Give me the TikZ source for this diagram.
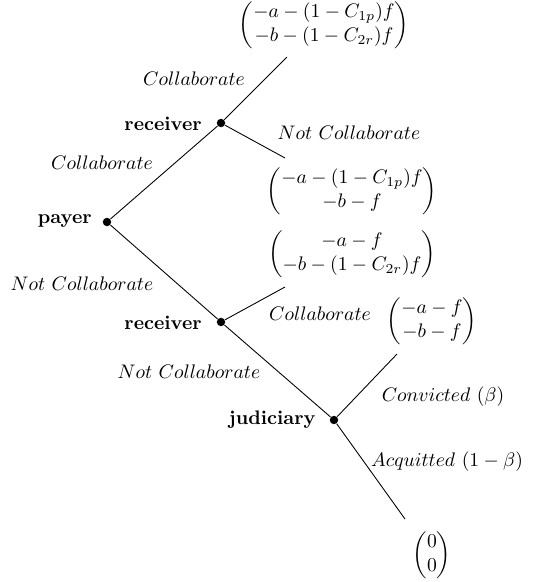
\documentclass[tikz,border=0pt]{standalone}
\usepackage{amsmath}
\begin{document}
\begin{tikzpicture}[x=0.51pt,y=-0.51pt,
  dot/.style={circle,fill=black,inner sep=0pt,minimum size=4.3pt},
  edge/.style={line width=0.45pt},
  lbl/.style={inner sep=0pt},
  who/.style={inner sep=0pt,anchor=east,font=\bfseries}]
\useasboundingbox (0,0) rectangle (541,582);
% decision nodes
\node[dot] (payer) at (107,222) {};
\node[dot] (recU) at (221,123) {};
\node[dot] (recL) at (221,322) {};
\node[dot] (jud) at (334,420) {};
% leaf ends
\coordinate (eTop) at (287,57);
\coordinate (eNC) at (285,158);
\coordinate (eC) at (285,287);
\coordinate (eConv) at (397,354);
\coordinate (eAcq) at (405,519);
% connectors
\draw[edge] (payer) -- (recU);
\draw[edge] (payer) -- (recL);
\draw[edge] (recU) -- (eTop);
\draw[edge] (recU) -- (eNC);
\draw[edge] (recL) -- (eC);
\draw[edge] (recL) -- (jud);
\draw[edge] (jud) -- (eConv);
\draw[edge] (jud) -- (eAcq);
% player labels
\node[who] (tPayer) at (92,221) {payer};
\node[who] (tRecU) at (202,124) {receiver};
\node[who] (tRecL) at (202,323) {receiver};
\node[who] (tJud) at (316,420) {judiciary};
% action labels
\node[lbl] (l1) at (194,79) {$Collaborate$};
\node[lbl] (l2) at (102,163) {$Collaborate$};
\node[lbl] (l3) at (349,133) {$Not\ Collaborate$};
\node[lbl] (l4) at (82,284) {$Not\ Collaborate$};
\node[lbl] (l5) at (320,314) {$Collaborate$};
\node[lbl] (l6) at (189,372) {$Not\ Collaborate$};
\node[lbl] (l7) at (443,397) {$Convicted\ (\beta)$};
\node[lbl] (l8) at (447,462) {$Acquitted\ (1-\beta)$};
% payoffs
\node[lbl] (p1) at (324,25) {$\begin{pmatrix}-a-(1-C_{1p})f\\ -b-(1-C_{2r})f\end{pmatrix}$};
\node[lbl] (p2) at (352,191) {$\begin{pmatrix}-a-(1-C_{1p})f\\ -b-f\end{pmatrix}$};
\node[lbl] (p3) at (352,254) {$\begin{pmatrix}-a-f\\ -b-(1-C_{2r})f\end{pmatrix}$};
\node[lbl] (p4) at (432,321) {$\begin{pmatrix}-a-f\\ -b-f\end{pmatrix}$};
\node[lbl] (p5) at (432,555) {$\begin{pmatrix}0\\ 0\end{pmatrix}$};
\end{tikzpicture}
\end{document}
